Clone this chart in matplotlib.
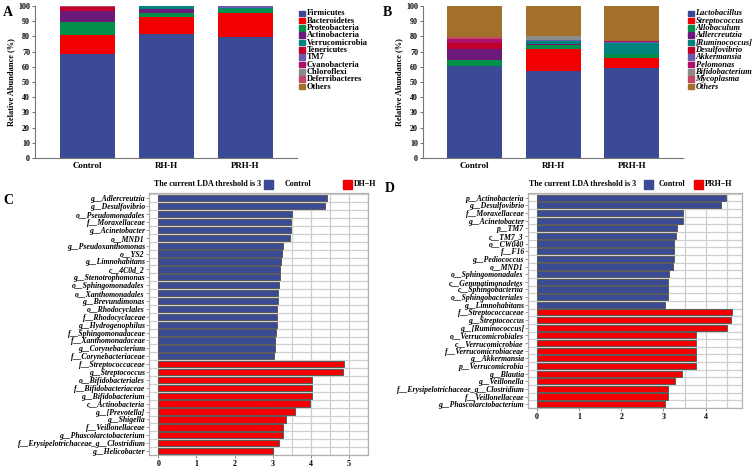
import matplotlib
matplotlib.use("Agg")
import matplotlib.pyplot as plt
from matplotlib.patches import Rectangle
import numpy as np

plt.rcParams['font.family'] = ['Liberation Serif', 'DejaVu Serif']
plt.rcParams['font.weight'] = 'bold'

# ---------------- data ----------------
groups = ["Control", "RH-H", "PRH-H"]

phyla = ["Firmicutes", "Bacteroidetes", "Proteobacteria", "Actinobacteria",
         "Verrucomicrobia", "Tenericutes", "TM7", "Cyanobacteria",
         "Chloroflexi", "Deferribacteres", "Others"]
phyla_control = [68.4, 12.6, 8.7, 7.0, 0.2, 2.3, 0.1, 0.2, 0.1, 0.3, 0.1]
phyla_rhh     = [81.6, 11.0, 3.0, 2.2, 2.0, 0.05, 0.05, 0.03, 0.03, 0.02, 0.02]
phyla_prhh    = [79.8, 15.8, 2.2, 0.2, 0.4, 0.1, 1.3, 0.05, 0.05, 0.05, 0.05]
phyla_colors = ["#3b4a94", "#f20000", "#00904a", "#6b1a7c", "#00847e",
                "#c2002a", "#6a5cad", "#b0106a", "#8c8c8c", "#c24a66", "#a2702a"]

genera = ["Lactobacillus", "Streptococcus", "Allobaculum", "Adlercreutzia",
          "[Ruminococcus]", "Desulfovibrio", "Akkermansia", "Pelomonas",
          "Bifidobacterium", "Mycoplasma", "Others"]
genera_control = [60.5, 0.1, 4.0, 7.0, 0.3, 3.5, 0.1, 2.6, 0.3, 1.5, 20.1]
genera_rhh     = [57.0, 14.5, 3.0, 0.3, 2.4, 0.1, 0.2, 0.1, 2.5, 0.1, 19.8]
genera_prhh    = [59.0, 6.8, 2.6, 0.3, 7.0, 0.1, 0.3, 0.8, 0.1, 0.1, 22.9]
genera_colors = ["#3b4a94", "#f20000", "#00904a", "#6b1a7c", "#00847e",
                 "#c2002a", "#6a5cad", "#b0106a", "#8c8c8c", "#c24a66", "#a2702a"]

lda_c_names = ["g__Adlercreutzia", "g__Desulfovibrio", "o__Pseudomonadales",
               "f__Moraxellaceae", "g__Acinetobacter", "o__MND1",
               "g__Pseudoxanthomonas", "o__YS2", "g__Limnohabitans", "c__4C0d_2",
               "g__Stenotrophomonas", "o__Sphingomonadales", "o__Xanthomonadales",
               "g__Brevundimonas", "o__Rhodocyclales", "f__Rhodocyclaceae",
               "g__Hydrogenophilus", "f__Sphingomonadaceae", "f__Xanthomonadaceae",
               "g__Corynebacterium", "f__Corynebacteriaceae",
               "f__Streptococcaceae", "g__Streptococcus", "o__Bifidobacteriales",
               "f__Bifidobacteriaceae", "g__Bifidobacterium", "c__Actinobacteria",
               "g__[Prevotella]", "g__Shigella", "f__Veillonellaceae",
               "g__Phascolarctobacterium", "f__Erysipelotrichaceae_g__Clostridium",
               "g__Helicobacter"]
lda_c_values = [4.43, 4.36, 3.51, 3.49, 3.48, 3.46, 3.26, 3.24, 3.21, 3.20,
                3.19, 3.17, 3.14, 3.13, 3.10, 3.10, 3.10, 3.08, 3.06, 3.06, 3.04,
                4.88, 4.84, 4.04, 4.03, 4.03, 3.99, 3.59, 3.35, 3.28, 3.26, 3.16, 3.00]
lda_c_groups = ["Control"] * 21 + ["DH-H"] * 12

lda_d_names = ["p__Actinobacteria", "g__Desulfovibrio", "f__Moraxellaceae",
               "g__Acinetobacter", "p__TM7", "c__TM7_3", "o__CW040", "f__F16",
               "g__Pediococcus", "o__MND1", "o__Sphingomonadales",
               "c__Gemmatimonadetes", "c__Sphingobacteriia", "o__Sphingobacteriales",
               "g__Limnohabitans",
               "f__Streptococcaceae", "g__Streptococcus", "g__[Ruminococcus]",
               "o__Verrucomicrobiales", "c__Verrucomicrobiae",
               "f__Verrucomicrobiaceae", "g__Akkermansia", "p__Verrucomicrobia",
               "g__Blautia", "g__Veillonella", "f__Erysipelotrichaceae_g__Clostridium",
               "f__Veillonellaceae", "g__Phascolarctobacterium"]
lda_d_values = [4.49, 4.36, 3.47, 3.47, 3.32, 3.30, 3.26, 3.26, 3.25, 3.23,
                3.13, 3.10, 3.10, 3.10, 3.04,
                4.62, 4.61, 4.51, 3.76, 3.76, 3.76, 3.76, 3.76, 3.45, 3.27,
                3.10, 3.10, 3.04]
lda_d_groups = ["Control"] * 15 + ["PRH-H"] * 13

BLUE = "#3b4a94"
RED = "#f20000"

W, H = 753, 475
fig = plt.figure(figsize=(W / 100, H / 100), dpi=100)


def fr(x0, y0, x1, y1):
    """pixel box -> figure fraction rect"""
    return [x0 / W, 1 - y1 / H, (x1 - x0) / W, (y1 - y0) / H]


def px(x, y):
    return x / W, 1 - y / H


def stacked(ax, series, names, colors):
    data = np.array(series)  # groups x taxa
    x = np.arange(len(groups))
    bottom = np.zeros(len(groups))
    for j, name in enumerate(names):
        ax.bar(x, data[:, j], bottom=bottom, width=0.7, color=colors[j],
               edgecolor='none', label=name)
        bottom += data[:, j]
    ax.set_xlim(-0.66, 2.65)
    ax.set_ylim(0, 100)
    ax.set_yticks(np.arange(0, 101, 10))
    ax.set_xticks(x)
    ax.set_xticklabels(groups, fontsize=6.4, fontweight='bold')
    ax.tick_params(axis='y', labelsize=5.8, length=2, width=0.6, pad=1.5,
                   color='#555555')
    ax.tick_params(axis='x', length=0, pad=3)
    for s in ['top', 'right']:
        ax.spines[s].set_visible(False)
    for s in ['left', 'bottom']:
        ax.spines[s].set_color('#777777')
        ax.spines[s].set_linewidth(0.8)
    ax.set_ylabel("Relative Abundance (%)", fontsize=6.0, fontweight='bold',
                  labelpad=2)


def legend_manual(x, y0, names, colors, italic=False):
    for i, (n, c) in enumerate(zip(names, colors)):
        y = y0 + i * 7.33
        fig.add_artist(Rectangle(px(x, y + 2.7), 5.5 / W, 5.5 / H, color=c,
                                 transform=fig.transFigure))
        fig.text(*px(x + 7.5, y), n, fontsize=6.0, fontweight='bold',
                 style='italic' if italic else 'normal', va='center', ha='left')


# Panel A
axA = fig.add_axes(fr(35, 6, 297, 158))
stacked(axA, [phyla_control, phyla_rhh, phyla_prhh], phyla, phyla_colors)
legend_manual(299, 13.3, phyla, phyla_colors)
fig.text(*px(3, 12), "A", fontsize=10, fontweight='bold', va='center')

# Panel B
axB = fig.add_axes(fr(423, 6, 683, 158))
stacked(axB, [genera_control, genera_rhh, genera_prhh], genera, genera_colors)
legend_manual(688, 13.3, genera, genera_colors, italic=True)
fig.text(*px(383, 13), "B", fontsize=10, fontweight='bold', va='center')


def lda(ax, names, values, grp, xmax, xticks, top, bottom):
    n = len(names)
    y = np.arange(n)
    cols = [BLUE if g == "Control" else RED for g in grp]
    ax.set_axisbelow(True)
    ax.barh(y, values, height=0.8, color=cols, edgecolor='#5a5a5a',
            linewidth=0.7)
    ax.set_ylim(bottom, top)
    ax.set_xlim(xmax[0], xmax[1])
    ax.set_yticks(y)
    ax.set_yticklabels(names, fontsize=5.6, fontweight='bold', style='italic')
    ax.set_xticks(xticks)
    ax.set_xticks(np.arange(0.5, xticks[-1] + 0.6, 1.0), minor=True)
    ax.tick_params(axis='x', labelsize=5.8, length=2, width=0.6, pad=1.5,
                   color='#777777')
    ax.tick_params(axis='x', which='minor', length=0)
    ax.tick_params(axis='y', length=2, width=0.5, pad=1, color='#777777')
    ax.grid(True, which='both', axis='x', color='#cfcfcf', linewidth=0.9)
    ax.set_yticks(np.arange(-0.5, n, 1.0), minor=True)
    ax.tick_params(axis='y', which='minor', length=0)
    ax.grid(True, which='minor', axis='y', color='#cfcfcf', linewidth=0.9)
    for s in ax.spines.values():
        s.set_color('#b0b0b0')
        s.set_linewidth(0.9)


def lda_legend(tx, ty, bx1, ctx, bx2, gtx, grp_name):
    fig.text(*px(tx, ty), "The current LDA threshold is 3", fontsize=5.8,
             fontweight='bold', va='center', ha='left')
    fig.add_artist(Rectangle(px(bx1, ty + 4.5), 9 / W, 9 / H, color=BLUE,
                             transform=fig.transFigure))
    fig.text(*px(ctx, ty), "Control", fontsize=5.8, fontweight='bold',
             va='center', ha='left')
    fig.add_artist(Rectangle(px(bx2, ty + 4.5), 9 / W, 9 / H, color=RED,
                             transform=fig.transFigure))
    fig.text(*px(gtx, ty), grp_name.replace("-", "\u2212"), fontsize=5.8,
             fontweight='bold', va='center', ha='left')


# Panel C
axC = fig.add_axes(fr(149, 193, 368, 455))
lda(axC, lda_c_names, lda_c_values, lda_c_groups, (-0.245, 5.12),
    [0, 1, 2, 3, 4, 5], -0.67, 32.5)
lda_legend(154, 184, 264, 285, 343, 354, "DH-H")
fig.text(*px(3, 200), "C", fontsize=10, fontweight='bold', va='center')

# Panel D
axD = fig.add_axes(fr(528, 193, 742, 408))
lda(axD, lda_d_names, lda_d_values, lda_d_groups, (-0.21, 4.86),
    [0, 1, 2, 3, 4], -0.61, 27.5)
lda_legend(529, 184, 644, 659, 694, 705, "PRH-H")
fig.text(*px(385, 188), "D", fontsize=10, fontweight='bold', va='center')

fig.savefig("out.png", dpi=100)
